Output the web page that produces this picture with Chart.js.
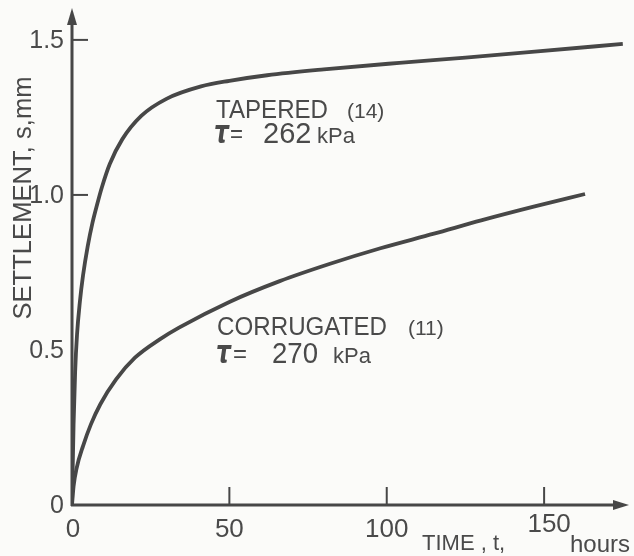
<!DOCTYPE html>
<html lang="en">
    <head>
        <meta charset="UTF-8" />
        <title>Settlement vs Time</title>
        <script src="https://cdn.jsdelivr.net/npm/chart.js"></script>
        <style>
            body {
                margin: 0;
                background: #fbfbf9;
                font-family: "Liberation Sans", sans-serif;
            }
            #wrap {
                width: 634px;
                height: 556px;
                position: relative;
            }
        </style>
    </head>
    <body>
        <div id="wrap"><canvas id="curveChart"></canvas></div>

        <script>
            // time t (hours) and settlement s (mm)
            const taperedT = [0, 0.5, 1, 1.6, 2.5, 3.5, 5, 6.5, 8, 9.5, 12, 16, 22, 30, 41, 50, 62, 80, 104, 125, 147, 175]
            const taperedS = [0, 0.26, 0.43, 0.55, 0.655, 0.74, 0.835, 0.91, 0.97, 1.025, 1.1, 1.18, 1.255, 1.31, 1.35, 1.368, 1.386, 1.405, 1.426, 1.443, 1.462, 1.487]

            const corrugatedT = [0, 0.5, 1.5, 3.5, 6, 9, 14, 20, 28, 34, 50, 66, 82, 98, 115, 130, 147, 163]
            const corrugatedS = [0, 0.06, 0.12, 0.19, 0.26, 0.325, 0.405, 0.475, 0.535, 0.572, 0.655, 0.722, 0.778, 0.828, 0.875, 0.918, 0.963, 1.003]

            const xTicks = [0, 50, 100, 150]
            const xTickLabels = ["0", "50", "100", "150"]
            const yTicks = [0, 0.5, 1.0, 1.5]
            const yTickLabels = ["0", "0.5", "1.0", "1.5"]

            const ink = "#474747"
            const textInk = "#4a4a4a"

            const toPoints = (ts, ss) => ts.map((t, i) => ({ x: t, y: ss[i] }))

            // axes, arrows, ticks and all the printed text
            const figurePlugin = {
                id: "figure",
                afterDraw(chart) {
                    const ctx = chart.ctx
                    const xs = chart.scales.x
                    const ys = chart.scales.y
                    const x0 = xs.getPixelForValue(0)
                    const y0 = ys.getPixelForValue(0)
                    const area = chart.chartArea

                    ctx.save()
                    ctx.strokeStyle = ink
                    ctx.fillStyle = ink
                    ctx.lineWidth = 3

                    // y axis + arrow
                    ctx.beginPath()
                    ctx.moveTo(x0, y0 + 1)
                    ctx.lineTo(x0, area.top + 10)
                    ctx.stroke()
                    ctx.beginPath()
                    ctx.moveTo(x0, area.top - 4)
                    ctx.lineTo(x0 - 5, area.top + 13)
                    ctx.lineTo(x0 + 5, area.top + 13)
                    ctx.closePath()
                    ctx.fill()

                    // x axis + arrow
                    ctx.beginPath()
                    ctx.moveTo(x0 - 1, y0)
                    ctx.lineTo(area.right - 8, y0)
                    ctx.stroke()
                    ctx.beginPath()
                    ctx.moveTo(area.right + 4, y0)
                    ctx.lineTo(area.right - 12, y0 - 5)
                    ctx.lineTo(area.right - 12, y0 + 5)
                    ctx.closePath()
                    ctx.fill()

                    // tick marks (drawn inward)
                    ctx.lineWidth = 2
                    xTicks.forEach((v) => {
                        if (v === 0) return
                        const px = xs.getPixelForValue(v)
                        ctx.beginPath()
                        ctx.moveTo(px, y0)
                        ctx.lineTo(px, y0 - 18)
                        ctx.stroke()
                    })
                    yTicks.forEach((v) => {
                        if (v < 1) return
                        const py = ys.getPixelForValue(v)
                        ctx.beginPath()
                        ctx.moveTo(x0, py)
                        ctx.lineTo(x0 + 16, py)
                        ctx.stroke()
                    })

                    // tick labels
                    ctx.fillStyle = textInk
                    ctx.font = "25px 'Liberation Sans'"
                    ctx.textAlign = "right"
                    ctx.textBaseline = "middle"
                    yTicks.forEach((v, i) => {
                        const py = ys.getPixelForValue(v)
                        ctx.fillText(yTickLabels[i], x0 - 8, py + 1)
                    })
                    ctx.textAlign = "center"
                    ctx.textBaseline = "alphabetic"
                    ctx.font = "26px 'Liberation Sans'"
                    xTicks.forEach((v, i) => {
                        const px = xs.getPixelForValue(v)
                        const raise = v === 150 ? 5 : 0
                        const shift = v === 150 ? 5 : v === 0 ? 1 : 0
                        ctx.fillText(xTickLabels[i], px + shift, y0 + 32 - raise)
                    })

                    // x axis title pieces
                    ctx.textAlign = "left"
                    ctx.font = "22px 'Liberation Sans'"
                    ctx.fillText("TIME , t,", 422, 550, 88)
                    ctx.font = "24px 'Liberation Sans'"
                    ctx.fillText("hours", 570, 552, 63)

                    // y axis title
                    ctx.save()
                    ctx.translate(31, 198)
                    ctx.rotate(-Math.PI / 2)
                    ctx.textAlign = "center"
                    ctx.font = "26px 'Liberation Sans'"
                    ctx.fillText("SETTLEMENT, s,mm", 0, 0, 243)
                    ctx.restore()

                    // curve labels
                    const put = (str, x, y, font, maxW) => {
                        ctx.font = font
                        if (maxW) ctx.fillText(str, x, y, maxW)
                        else ctx.fillText(str, x, y)
                    }
                    put("TAPERED", 216, 118, "25px 'Liberation Sans'", 112)
                    put("(14)", 347, 118, "21px 'Liberation Sans'")
                    put("τ", 214, 143, "bold italic 32px 'DejaVu Sans'", 15)
                    put("=", 230, 142, "26px 'Liberation Sans'", 13)
                    put("262", 263, 143, "29px 'Liberation Sans'", 50)
                    put("kPa", 317, 143, "22px 'Liberation Sans'", 45)

                    put("CORRUGATED", 217, 335, "25px 'Liberation Sans'", 170)
                    put("(11)", 408, 335, "21px 'Liberation Sans'")
                    put("τ", 216, 363, "bold italic 32px 'DejaVu Sans'", 15)
                    put("=", 233, 362, "26px 'Liberation Sans'", 14)
                    put("270", 272, 363, "29px 'Liberation Sans'", 46)
                    put("kPa", 333, 363, "22px 'Liberation Sans'", 40)

                    ctx.restore()
                },
            }

            const lineStyle = {
                borderColor: ink,
                borderWidth: 3.8,
                pointRadius: 0,
                fill: false,
                cubicInterpolationMode: "monotone",
            }

            const ctx = document.getElementById("curveChart").getContext("2d")
            const chart = new Chart(ctx, {
                type: "line",
                data: {
                    datasets: [
                        { label: "Tapered (14)", data: toPoints(taperedT, taperedS), ...lineStyle },
                        { label: "Corrugated (11)", data: toPoints(corrugatedT, corrugatedS), ...lineStyle },
                    ],
                },
                options: {
                    responsive: true,
                    maintainAspectRatio: false,
                    animation: false,
                    layout: { padding: { top: 12, right: 9, left: 0, bottom: 0 } },
                    plugins: {
                        legend: { display: false },
                        tooltip: { enabled: false },
                    },
                    scales: {
                        x: {
                            type: "linear",
                            min: 0,
                            max: 175.7,
                            grid: { display: false },
                            border: { display: false },
                            ticks: { display: false },
                            afterFit: (s) => { s.height = 51 },
                        },
                        y: {
                            min: 0,
                            max: 1.59,
                            grid: { display: false },
                            border: { display: false },
                            ticks: { display: false },
                            afterFit: (s) => { s.width = 72 },
                        },
                    },
                },
                plugins: [figurePlugin],
            })
        </script>
    </body>
</html>
